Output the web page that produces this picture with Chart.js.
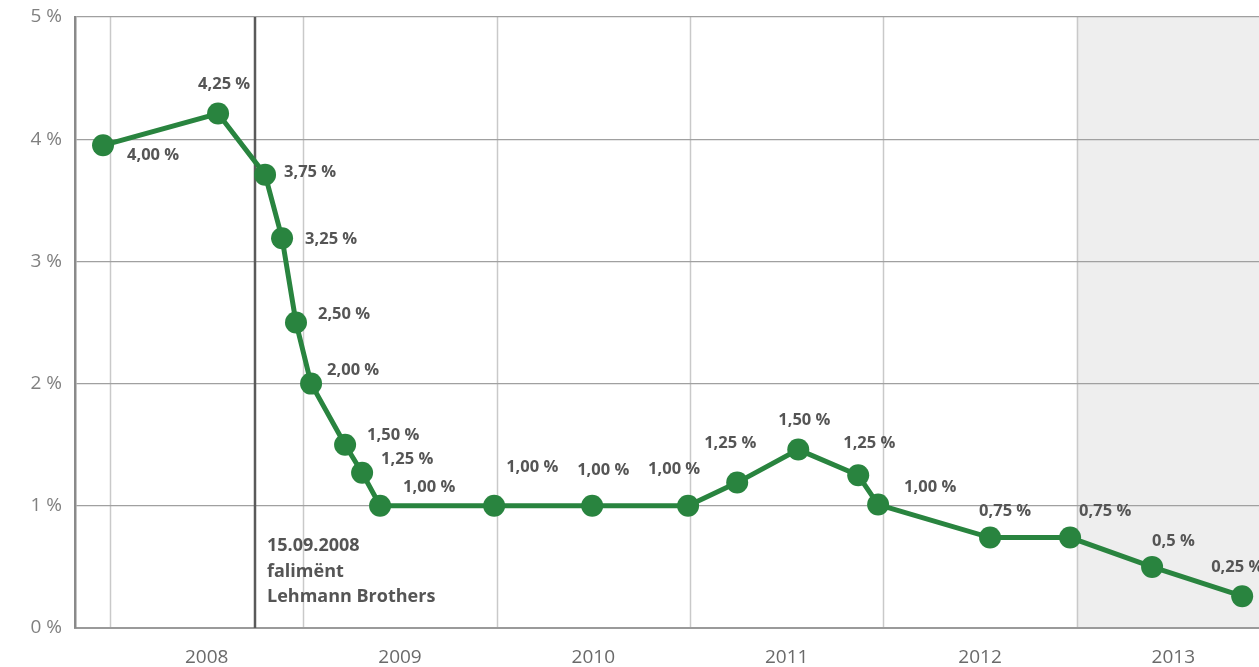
<!DOCTYPE html>
<html>
<head>
<meta charset="utf-8">
<script src="https://cdn.jsdelivr.net/npm/chart.js@4"></script>
<style>
  html, body { margin: 0; padding: 0; background: #fff; overflow: hidden; }
  canvas { display: block; }
</style>
</head>
<body>
<canvas id="chart" width="1259" height="667"></canvas>
<script>
// dates as decimal years
var dates = [2007.964, 2008.559, 2008.802, 2008.890, 2008.962, 2009.040, 2009.216, 2009.304,
  2009.397, 2009.987, 2010.494, 2010.990, 2011.244, 2011.560, 2011.870, 2011.973,
  2012.552, 2012.966, 2013.390, 2013.856];
var rates = [3.95, 4.21, 3.71, 3.19, 2.50, 2.00, 1.50, 1.27,
  1.00, 1.00, 1.00, 1.00, 1.19, 1.46, 1.25, 1.01,
  0.74, 0.74, 0.50, 0.26];
var rateLabels = ['4,00 %', '4,25 %', '3,75 %', '3,25 %', '2,50 %', '2,00 %', '1,50 %', '1,25 %',
  '1,00 %', '1,00 %', '1,00 %', '1,00 %', '1,25 %', '1,50 %', '1,25 %', '1,00 %',
  '0,75 %', '0,75 %', '0,5 %', '0,25 %'];
var years = [2008, 2009, 2010, 2011, 2012, 2013];
var lehmannDate = 2008.75;
var lehmannText = ['15.09.2008', 'falimënt', 'Lehmann Brothers'];

// where each value label sits relative to its point (left edge, middle)
var labelOffsets = [[24, 10], [-20, -29], [19, -2], [23, 1], [22, -8], [16, -13], [22, -9], [19, -14],
  [23, -19], [12, -39], [-15, -36], [-40, -37], [-33, -39], [-20, -29], [-15, -32], [26, -17],
  [-11, -26], [9, -26], [0, -26], [-31, -29]];

var green = '#29843f';
var labelFont = 'bold 16.5px "Open Sans"';

var decor = {
  id: 'decor',
  beforeDraw: function(chart) {
    var ctx = chart.ctx, a = chart.chartArea, x = chart.scales.x;
    ctx.save();
    // 2013 shaded
    var x0 = x.getPixelForValue(2013);
    ctx.fillStyle = '#eeeeee';
    ctx.fillRect(x0, a.top, a.right - x0, a.bottom - a.top);
    // year gridlines
    ctx.strokeStyle = '#c9c9c9';
    ctx.lineWidth = 1.5;
    years.forEach(function(y) {
      var px = Math.round(x.getPixelForValue(y)) + 0.5;
      ctx.beginPath();
      ctx.moveTo(px, a.top);
      ctx.lineTo(px, a.bottom);
      ctx.stroke();
    });
    ctx.restore();
  },
  beforeDatasetsDraw: function(chart) {
    var ctx = chart.ctx, a = chart.chartArea, x = chart.scales.x;
    var px = x.getPixelForValue(lehmannDate);
    ctx.save();
    ctx.strokeStyle = '#5a5a5a';
    ctx.lineWidth = 2.5;
    ctx.beginPath();
    ctx.moveTo(px, a.top);
    ctx.lineTo(px, a.bottom);
    ctx.stroke();
    ctx.fillStyle = '#555555';
    ctx.font = 'bold 18px "Open Sans"';
    ctx.textBaseline = 'middle';
    lehmannText.forEach(function(t, i) {
      ctx.fillText(t, px + 12, 546 + i * 25.5);
    });
    ctx.restore();
  },
  afterDatasetsDraw: function(chart) {
    var ctx = chart.ctx;
    var pts = chart.getDatasetMeta(0).data;
    ctx.save();
    ctx.fillStyle = '#555555';
    ctx.font = labelFont;
    ctx.textBaseline = 'middle';
    ctx.textAlign = 'left';
    pts.forEach(function(p, i) {
      ctx.fillText(rateLabels[i], p.x + labelOffsets[i][0], p.y + labelOffsets[i][1]);
    });
    ctx.restore();
  }
};

var options = {
  type: 'line',
  data: {
    datasets: [{
      data: dates.map(function(d, i) { return { x: d, y: rates[i] }; }),
      borderColor: green,
      backgroundColor: green,
      borderWidth: 5,
      pointRadius: 11,
      pointHoverRadius: 11,
      pointBorderWidth: 0,
      tension: 0,
      clip: false
    }]
  },
  options: {
    responsive: false,
    animation: false,
    events: [],
    layout: { autoPadding: false, padding: { top: 17, right: 0, left: 0, bottom: 0 } },
    plugins: {
      legend: { display: false },
      tooltip: { enabled: false }
    },
    scales: {
      x: {
        type: 'linear',
        min: 2007.819,
        max: 2013.943,
        afterBuildTicks: function(axis) {
          axis.ticks = years.map(function(y) { return { value: y + 0.5 }; });
        },
        afterFit: function(axis) {
          axis.height = 39;
          axis.paddingLeft = 0;
          axis.paddingRight = 0;
        },
        grid: { display: false },
        border: { display: true, color: '#9a9a9a', width: 2 },
        ticks: {
          padding: 10,
          maxRotation: 0,
          autoSkip: false,
          color: '#6a6a6a',
          font: { family: 'Open Sans', size: 19 },
          callback: function(v) { return String(Math.floor(v)); }
        }
      },
      y: {
        min: 0,
        max: 5,
        afterFit: function(axis) {
          axis.width = 75;
          axis.paddingTop = 0;
          axis.paddingBottom = 0;
        },
        grid: { color: '#a0a0a0', lineWidth: 1.2, drawTicks: false },
        border: { display: true, color: '#8a8a8a', width: 2.5 },
        ticks: {
          stepSize: 1,
          padding: 13,
          color: '#808080',
          font: { family: 'Open Sans', size: 19 },
          callback: function(v) { return v + ' %'; }
        }
      }
    }
  },
  plugins: [decor]
};

var chart = new Chart(document.getElementById('chart'), options);
</script>
</body>
</html>
